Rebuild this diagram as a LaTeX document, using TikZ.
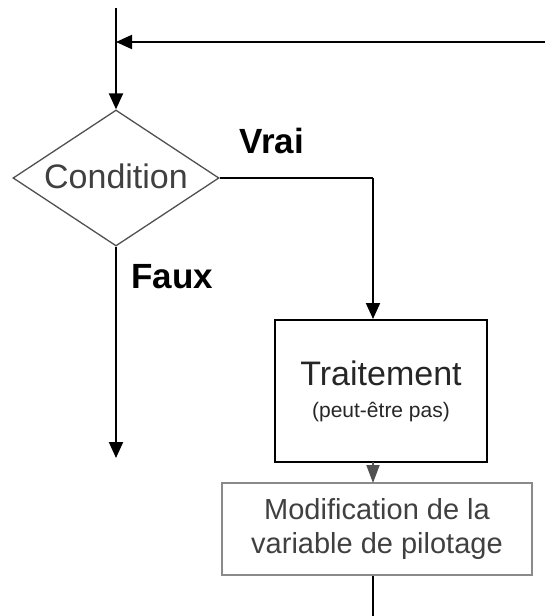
\documentclass[tikz,border=0pt]{standalone}
\usepackage{fontspec}
\setmainfont{Liberation Sans}
\usetikzlibrary{shapes.geometric,arrows.meta}
\definecolor{boxgray}{HTML}{8A8A8A}
\definecolor{textgray}{HTML}{404040}
\definecolor{edgegray}{HTML}{505050}
\tikzset{
  flow/.style={line width=2pt, black},
  head/.style={-{Triangle[length=16pt,width=14pt]}},
  decision/.style={shape=diamond, draw=edgegray, line width=1.3pt, aspect=1.52,
    minimum width=206pt, minimum height=136pt, inner sep=0pt,
    font=\fontsize{34}{36}\selectfont, text=textgray},
  process/.style={draw=black, line width=2pt, minimum width=212pt, minimum height=142pt,
    inner sep=0pt, align=center, text=black!85, font=\fontsize{34}{32}\selectfont},
  update/.style={draw=boxgray, line width=1.5pt, minimum width=310pt, minimum height=92pt,
    inner sep=0pt, align=center, text=textgray, font=\fontsize{29}{34}\selectfont},
  tag/.style={font=\bfseries\fontsize{35}{38}\selectfont}
}
\begin{document}
\begin{tikzpicture}[x=1pt,y=-1pt]
  \useasboundingbox (0,0) rectangle (545,616);
  % nodes
  \node[decision] (cond) at (116,178) {\raisebox{3pt}{Condition}};
  \node[process] (trait) at (381,391) {Traitement\\
    {\fontsize{21}{24}\selectfont (peut-être pas)}};
  \node[update] (modif) at (377,529) {Modification de la\\variable de pilotage};
  \node[tag] at (272,141) {Vrai};
  \node[tag] at (172,277) {Faux};
  % free ends
  \coordinate (start) at (116,8);
  \coordinate (back) at (545,42);
  \coordinate (join) at (116,42);
  \coordinate (out) at (116,458);
  \coordinate (corner) at (373,178);
  \coordinate (tail) at (373,616);
  % connectors
  \draw[flow,head] (start) -- (cond.north);
  \draw[flow,head] (back) -- (join);
  \draw[flow] (cond.east) -- (corner);
  \draw[flow,head] (corner) -- (corner |- trait.north);
  \draw[flow,head] (cond.south) -- (out);
  \draw[line width=2pt, edgegray, -{Triangle[length=18pt,width=13pt]}]
    (373,462) -- (373,483);
  \draw[flow] (modif.south -| tail) -- (tail);
\end{tikzpicture}
\end{document}
